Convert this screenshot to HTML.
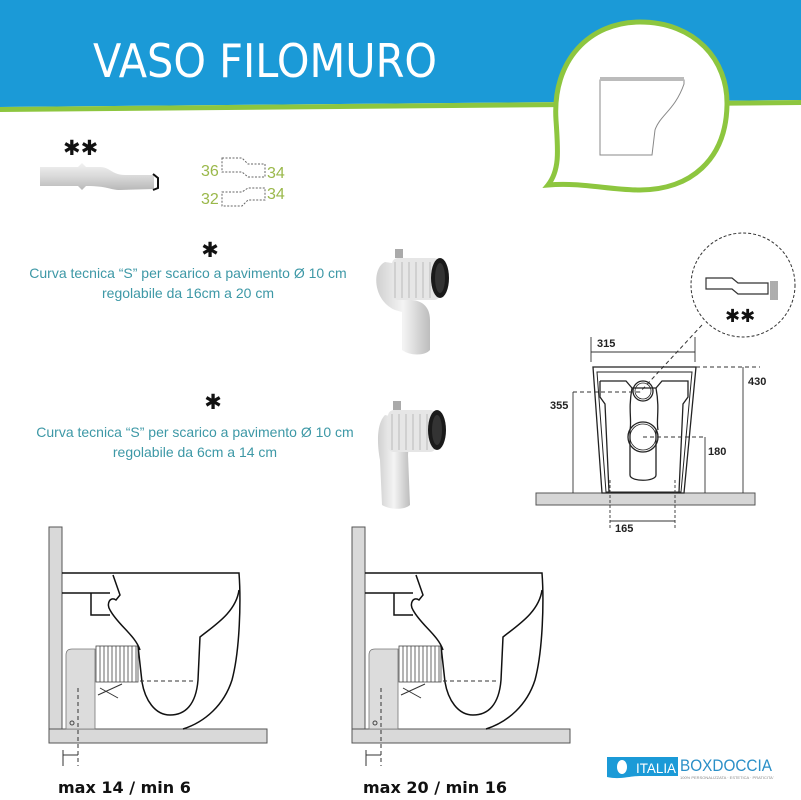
<!DOCTYPE html>
<html><head><meta charset="utf-8"><style>
html,body{margin:0;padding:0;background:#fff;}
svg{display:block;font-family:"Liberation Sans",sans-serif;}
</style></head><body>
<svg width="801" height="800" viewBox="0 0 801 800" xmlns="http://www.w3.org/2000/svg">
<defs>
<linearGradient id="pg" x1="0" y1="0" x2="0" y2="1"><stop offset="0" stop-color="#f2f2f2"/><stop offset="0.5" stop-color="#d9d9d9"/><stop offset="1" stop-color="#b8b8b8"/></linearGradient>
<linearGradient id="pg2" x1="0" y1="0" x2="1" y2="0"><stop offset="0" stop-color="#d0d0d0"/><stop offset="0.5" stop-color="#f4f4f4"/><stop offset="1" stop-color="#bdbdbd"/></linearGradient>
</defs>
<!-- header -->
<polygon points="0,0 801,0 801,100 0,107" fill="#1b9ad7"/>
<polygon points="0,107 801,100 801,105 0,112" fill="#8dc63f"/>
<text x="93" y="77" font-size="46" fill="#fff" font-family="'DejaVu Sans',sans-serif" textLength="344" lengthAdjust="spacingAndGlyphs">VASO FILOMURO</text>
<!-- bubble -->
<path d="M548,185 C560,170 558,150 556,120 C552,60 590,22 640,22 C695,22 728,60 727,105 C726,160 690,190 640,190 C610,190 580,182 548,185 Z" fill="#fff" stroke="#8dc63f" stroke-width="5"/>
<path d="M600,80 L684,80 L684,84 C675,110 660,115 655,130 L652,155 L600,155 Z" fill="#fff" stroke="#888" stroke-width="1"/>
<rect x="600" y="77" width="84" height="4" fill="#bbb"/>
<!-- small pipe -->
<text x="63" y="155" font-size="21" fill="#111" font-family="'DejaVu Sans',sans-serif">✱✱</text>
<path d="M40,167 L78,167 L82,163 L86,167 L100,167 C110,167 112,175 125,175 L154,175 L154,189 L120,190 C110,190 108,186 86,186 L82,190 L78,186 L40,186 Z" fill="url(#pg)"/>
<path d="M153,174 L158,178 L158,188 L153,190" fill="none" stroke="#111" stroke-width="2"/>
<g font-size="16" fill="#9ab84a" font-family="'Liberation Sans Narrow','Liberation Sans',sans-serif">
<text x="201" y="176">36</text><text x="267" y="178">34</text>
<text x="201" y="204">32</text><text x="267" y="199">34</text>
</g>
<g fill="none" stroke="#666" stroke-width="1" stroke-dasharray="2,1.5">
<path d="M222,158 L242,158 L248,164 L265,164 L265,177 L248,177 L242,172 L222,172 Z"/>
<path d="M222,192 L242,192 L248,188 L265,188 L265,200 L248,200 L242,206 L222,206 Z"/>
</g>
<!-- text blocks -->
<text x="210" y="257" font-size="21" text-anchor="middle" fill="#111" font-family="'DejaVu Sans',sans-serif">✱</text>
<text x="188" y="278" font-size="14" text-anchor="middle" fill="#3d98a6">Curva tecnica “S” per scarico a pavimento Ø 10 cm</text>
<text x="188" y="298" font-size="14" text-anchor="middle" fill="#3d98a6">regolabile da 16cm a 20 cm</text>
<text x="213" y="409" font-size="21" text-anchor="middle" fill="#111" font-family="'DejaVu Sans',sans-serif">✱</text>
<text x="195" y="437" font-size="14" text-anchor="middle" fill="#3d98a6">Curva tecnica “S” per scarico a pavimento Ø 10 cm</text>
<text x="195" y="457" font-size="14" text-anchor="middle" fill="#3d98a6">regolabile da 6cm a 14 cm</text>
<!-- pipe photo 1 -->
<path d="M385,262 C372,268 372,300 395,310 L402,312 L402,350 C410,356 425,356 430,350 L430,320 C430,305 420,300 410,300 L405,298 L405,265 Z" fill="url(#pg2)"/>
<rect x="392" y="258" width="48" height="42" rx="6" fill="#e6e6e6"/>
<g stroke="#bbb" stroke-width="1"><line x1="395" y1="262" x2="395" y2="298"/><line x1="402" y1="262" x2="402" y2="298"/><line x1="409" y1="262" x2="409" y2="298"/><line x1="416" y1="262" x2="416" y2="298"/><line x1="423" y1="262" x2="423" y2="298"/><line x1="430" y1="262" x2="430" y2="298"/></g>
<ellipse cx="440" cy="278" rx="9" ry="20" fill="#1a1a1a"/>
<ellipse cx="440" cy="278" rx="5" ry="15" fill="#333"/>
<rect x="395" y="249" width="8" height="9" fill="#aaa"/>
<!-- pipe photo 2 -->
<path d="M385,415 C375,425 378,450 380,460 L382,505 C390,510 405,510 410,505 L408,455 L410,420 Z" fill="url(#pg2)"/>
<rect x="388" y="410" width="48" height="42" rx="6" fill="#e6e6e6"/>
<g stroke="#bbb" stroke-width="1"><line x1="392" y1="414" x2="392" y2="450"/><line x1="399" y1="414" x2="399" y2="450"/><line x1="406" y1="414" x2="406" y2="450"/><line x1="413" y1="414" x2="413" y2="450"/><line x1="420" y1="414" x2="420" y2="450"/><line x1="427" y1="414" x2="427" y2="450"/></g>
<ellipse cx="437" cy="430" rx="9" ry="20" fill="#1a1a1a"/>
<ellipse cx="437" cy="430" rx="5" ry="15" fill="#333"/>
<rect x="393" y="401" width="8" height="9" fill="#aaa"/>
<!-- technical front view -->
<g fill="none" stroke="#333" stroke-width="1">
<circle cx="743" cy="285" r="52" stroke-dasharray="3,2"/>
<line x1="702" y1="325" x2="640" y2="392" stroke-dasharray="4,3"/>
<path d="M706,278 L732,278 L738,283 L768,283 L768,294 L738,294 L732,289 L706,289 Z" fill="#fff" stroke-width="1.2"/>
<g stroke-width="0.8"><line x1="771" y1="281" x2="771" y2="300"/><line x1="773" y1="281" x2="773" y2="300"/><line x1="775" y1="281" x2="775" y2="300"/><line x1="777" y1="281" x2="777" y2="300"/></g>
</g>
<text x="725" y="322" font-size="18" fill="#111" font-family="'DejaVu Sans',sans-serif">✱✱</text>
<rect x="536" y="493" width="219" height="12" fill="#d6d6d6" stroke="#555" stroke-width="1"/>
<g fill="none" stroke="#222" stroke-width="1.3">
<path d="M593,367 L696,367 L684,493 L602,493 Z"/>
<path d="M597,372 L692,372 L681,492 L606,492 Z" stroke-width="1"/>
<path d="M600,381 L626,381 L632,388 L656,388 L662,381 L688,381 L688,397 L683,404 L679,492"/>
<path d="M600,381 L600,397 L605,404 L609,492"/>
<path d="M632,388 C628,410 632,420 630,430 M656,388 C660,410 656,420 658,430"/>
<path d="M630,430 L630,475 C630,482 656,482 656,475 L656,430"/>
<circle cx="643" cy="391" r="10"/><circle cx="643" cy="391" r="8" stroke-width="0.8"/>
<circle cx="643" cy="437" r="15"/><circle cx="643" cy="437" r="13" stroke-width="0.8"/>
</g>
<g fill="none" stroke="#333" stroke-width="0.9">
<line x1="591" y1="337" x2="591" y2="362"/><line x1="695" y1="337" x2="695" y2="362"/><line x1="591" y1="352" x2="695" y2="352"/>
<line x1="696" y1="367" x2="760" y2="367" stroke-dasharray="4,3"/><line x1="743" y1="367" x2="743" y2="493"/>
<line x1="573" y1="392" x2="573" y2="493"/><line x1="573" y1="392" x2="643" y2="392" stroke-dasharray="4,3"/>
<line x1="643" y1="437" x2="705" y2="437" stroke-dasharray="4,3"/><line x1="705" y1="437" x2="705" y2="493"/>
<line x1="610" y1="480" x2="610" y2="530" stroke-dasharray="3,2"/><line x1="675" y1="480" x2="675" y2="530" stroke-dasharray="3,2"/>
<line x1="610" y1="521" x2="675" y2="521"/>
</g>
<g font-size="11" font-weight="bold" fill="#222">
<text x="597" y="347">315</text><text x="748" y="385">430</text><text x="550" y="409">355</text><text x="708" y="455">180</text><text x="615" y="532">165</text>
</g>
<!-- bottom drawings -->
<g id="d1">
<rect x="49" y="527" width="13" height="203" fill="#d9d9d9" stroke="#555" stroke-width="1"/>
<rect x="49" y="729" width="218" height="14" fill="#d9d9d9" stroke="#555" stroke-width="1"/>
<path d="M66,655 Q66,649 72,649 L95,649 L95,729 L66,729 Z" fill="#dcdcdc" stroke="#777" stroke-width="0.8"/>
<rect x="96" y="646" width="42" height="36" fill="#fff" stroke="#444" stroke-width="0.8"/>
<g stroke="#444" stroke-width="0.8"><line x1="100" y1="646" x2="100" y2="682"/><line x1="104" y1="646" x2="104" y2="682"/><line x1="108" y1="646" x2="108" y2="682"/><line x1="112" y1="646" x2="112" y2="682"/><line x1="116" y1="646" x2="116" y2="682"/><line x1="120" y1="646" x2="120" y2="682"/><line x1="124" y1="646" x2="124" y2="682"/><line x1="128" y1="646" x2="128" y2="682"/><line x1="132" y1="646" x2="132" y2="682"/><line x1="136" y1="646" x2="136" y2="682"/></g>
<g fill="none" stroke="#111" stroke-width="1.5">
<path d="M62,573 L239,573 C241,600 240,650 232,680 C224,705 205,722 183,729"/>
<path d="M239,590 C236,612 215,625 200,637 L198,680 C196,705 185,715 170,715 C155,715 145,700 142,682 L138,646"/>
<path d="M62,593 L110,593 M91,593 L91,615 L110,615"/>
<path d="M113,575 L120,595 L116,600 C110,596 106,604 110,610 C118,625 135,635 140,650"/>
</g>
<line x1="140" y1="681" x2="195" y2="681" stroke="#333" stroke-dasharray="4,3"/>
<line x1="78" y1="688" x2="78" y2="766" stroke="#333" stroke-dasharray="4,3"/>
<circle cx="72" cy="723" r="2" fill="none" stroke="#444"/>
<path d="M98,695 L122,684 M100,688 L118,698" stroke="#333" stroke-width="1"/>
<g stroke="#333" stroke-width="1"><line x1="63" y1="750" x2="63" y2="766"/><line x1="63" y1="755" x2="78" y2="755"/></g>
</g>
<use href="#d1" x="303" y="0"/>
<text x="58" y="793" font-size="16" font-weight="bold" fill="#111" font-family="'DejaVu Sans',sans-serif">max 14 / min 6</text>
<text x="363" y="793" font-size="16" font-weight="bold" fill="#111" font-family="'DejaVu Sans',sans-serif">max 20 / min 16</text>
<!-- logo -->
<path d="M607,757 L678,757 L678,776 L640,776 C630,776 620,780 607,777 Z" fill="#1b9ad7"/>
<ellipse cx="622" cy="767" rx="5" ry="7" fill="#fff"/>
<text x="636" y="773" font-size="14" fill="#fff" textLength="40" lengthAdjust="spacingAndGlyphs">ITALIA</text>
<text x="680" y="771" font-size="17" fill="#2a8fc7" textLength="92" lengthAdjust="spacingAndGlyphs">BOXDOCCIA</text>
<text x="680" y="779" font-size="4" fill="#888">100% PERSONALIZZATA · ESTETICA · PRATICITA'</text>
</svg>
</body></html>
